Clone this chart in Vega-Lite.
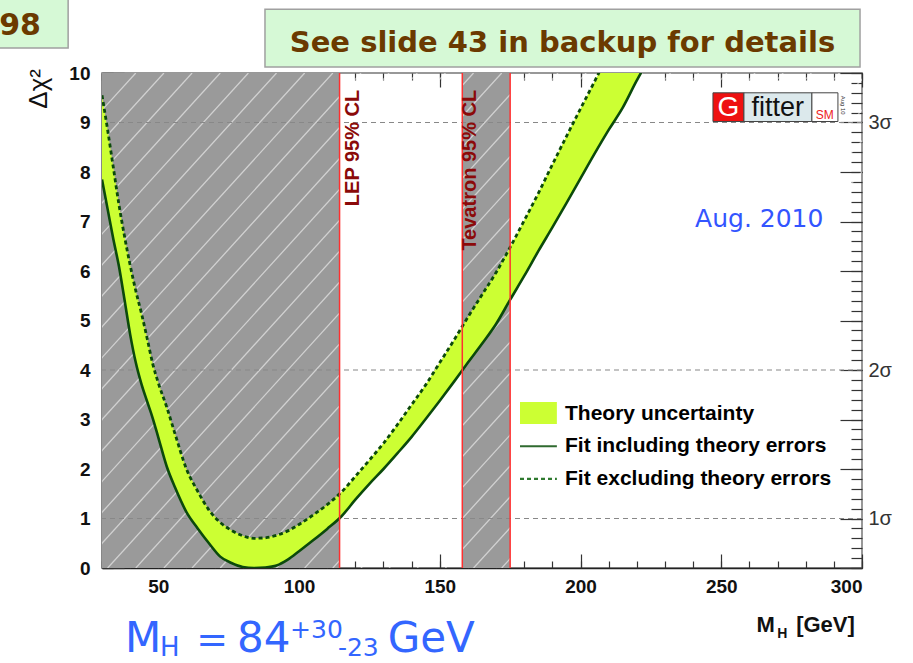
{
  "$schema": "https://vega.github.io/schema/vega-lite/v6.json",
  "width": 760,
  "height": 495,
  "autosize": "none",
  "padding": {"left": 102, "top": 73, "right": 51, "bottom": 95},
  "background": "white",
  "config": {
    "view": {"stroke": "#777777", "strokeWidth": 1.5},
    "axis": {"grid": false, "zindex": 1, "labelFont": "Liberation Sans", "labelFontWeight": "bold", "labelColor": "#111111", "tickColor": "#333333", "domainColor": "#333333", "labelFontSize": 19, "tickWidth": 1.2}
  },
  "data": {"values": [{}]},
  "datasets": {
    "bands": [{"x1": 30, "x2": 114.4}, {"x1": 158, "x2": 175}],
    "hatch": [
      {"h": -118, "h2": 42}, {"h": -108, "h2": 52}, {"h": -98, "h2": 62}, {"h": -88, "h2": 72},
      {"h": -78, "h2": 82}, {"h": -68, "h2": 92}, {"h": -58, "h2": 102}, {"h": -48, "h2": 112},
      {"h": -38, "h2": 122}, {"h": -28, "h2": 132}, {"h": -18, "h2": 142}, {"h": -8, "h2": 152},
      {"h": 2, "h2": 162}, {"h": 12, "h2": 172}, {"h": 22, "h2": 182}, {"h": 32, "h2": 192},
      {"h": 42, "h2": 202}, {"h": 52, "h2": 212}, {"h": 62, "h2": 222}, {"h": 72, "h2": 232},
      {"h": 82, "h2": 242}, {"h": 92, "h2": 252}, {"h": 102, "h2": 262}, {"h": 112, "h2": 272},
      {"h": 122, "h2": 282}, {"h": 132, "h2": 292}, {"h": 142, "h2": 302}, {"h": 152, "h2": 312},
      {"h": 162, "h2": 322}, {"h": 172, "h2": 332}
    ],
    "grid": [{"g": 1}, {"g": 4}, {"g": 9}],
    "redlines": [{"r": 114.4}, {"r": 158}, {"r": 175}],
    "curve": [
      {"x": 30, "solid": 7.85, "dashed": 9.55},
      {"x": 32, "solid": 7.25, "dashed": 8.85},
      {"x": 34, "solid": 6.65, "dashed": 8.1},
      {"x": 36, "solid": 6.1, "dashed": 7.35},
      {"x": 38, "solid": 5.42, "dashed": 6.7},
      {"x": 40, "solid": 4.72, "dashed": 6.12},
      {"x": 42, "solid": 4.15, "dashed": 5.6},
      {"x": 44, "solid": 3.72, "dashed": 5.15},
      {"x": 46, "solid": 3.37, "dashed": 4.65},
      {"x": 48, "solid": 3.03, "dashed": 4.13},
      {"x": 50, "solid": 2.64, "dashed": 3.74},
      {"x": 53, "solid": 2.05, "dashed": 3.25},
      {"x": 56, "solid": 1.62, "dashed": 2.7},
      {"x": 60, "solid": 1.13, "dashed": 2.0},
      {"x": 64, "solid": 0.8, "dashed": 1.55},
      {"x": 68, "solid": 0.5, "dashed": 1.17},
      {"x": 72, "solid": 0.23, "dashed": 0.92},
      {"x": 76, "solid": 0.1, "dashed": 0.76},
      {"x": 80, "solid": 0.02, "dashed": 0.65},
      {"x": 84, "solid": 0, "dashed": 0.6},
      {"x": 88, "solid": 0.01, "dashed": 0.61},
      {"x": 92, "solid": 0.05, "dashed": 0.66},
      {"x": 96, "solid": 0.17, "dashed": 0.75},
      {"x": 100, "solid": 0.34, "dashed": 0.88},
      {"x": 105, "solid": 0.56, "dashed": 1.07},
      {"x": 110, "solid": 0.79, "dashed": 1.28},
      {"x": 115, "solid": 1.04, "dashed": 1.53},
      {"x": 120, "solid": 1.38, "dashed": 1.85},
      {"x": 125, "solid": 1.7, "dashed": 2.18},
      {"x": 130, "solid": 2.0, "dashed": 2.52},
      {"x": 135, "solid": 2.32, "dashed": 2.9},
      {"x": 140, "solid": 2.65, "dashed": 3.3},
      {"x": 145, "solid": 3.01, "dashed": 3.7},
      {"x": 150, "solid": 3.38, "dashed": 4.15},
      {"x": 155, "solid": 3.76, "dashed": 4.6},
      {"x": 160, "solid": 4.15, "dashed": 5.07},
      {"x": 165, "solid": 4.53, "dashed": 5.52},
      {"x": 170, "solid": 4.93, "dashed": 5.97},
      {"x": 175, "solid": 5.42, "dashed": 6.48},
      {"x": 180, "solid": 5.9, "dashed": 7.02},
      {"x": 185, "solid": 6.4, "dashed": 7.57},
      {"x": 190, "solid": 6.88, "dashed": 8.15},
      {"x": 195, "solid": 7.37, "dashed": 8.72},
      {"x": 200, "solid": 7.87, "dashed": 9.28},
      {"x": 205, "solid": 8.37, "dashed": 9.83},
      {"x": 210, "solid": 8.85, "dashed": 10.4},
      {"x": 215, "solid": 9.3, "dashed": 10.95},
      {"x": 220, "solid": 9.85, "dashed": 11.5},
      {"x": 225, "solid": 10.35, "dashed": 12.05}
    ]
  },
  "resolve": {"axis": {"x": "independent", "y": "independent"}},
  "layer": [
    {
      "data": {"name": "bands"},
      "mark": {"type": "rect", "color": "#9a9a9a"},
      "encoding": {
        "x": {"field": "x1", "type": "quantitative", "scale": {"domain": [30, 300], "nice": false, "zero": false},
              "axis": {"title": null, "orient": "bottom", "values": [50, 100, 150, 200, 250, 300], "tickSize": -14, "labelPadding": 23, "domain": true, "domainWidth": 1.5, "domainColor": "#222222"}},
        "x2": {"field": "x2"}
      }
    },
    {
      "data": {"name": "hatch"},
      "mark": {"type": "rule", "color": "white", "opacity": 0.55, "strokeWidth": 1.3, "clip": true},
      "encoding": {
        "x": {"field": "h", "type": "quantitative", "axis": {"title": null, "orient": "top", "values": [50, 100, 150, 200, 250, 300], "tickSize": -14, "labels": false, "domain": false}},
        "x2": {"field": "h2"},
        "y": {"datum": 0, "type": "quantitative", "scale": {"domain": [0, 10], "nice": false, "zero": false}, "axis": null},
        "y2": {"datum": 10}
      }
    },
    {
      "data": {"name": "grid"},
      "mark": {"type": "rule", "color": "#888888", "strokeDash": [5, 4], "strokeWidth": 1.1},
      "encoding": {
        "y": {"field": "g", "type": "quantitative",
              "axis": {"title": null, "orient": "right", "values": [0, 1, 2, 3, 4, 5, 6, 7, 8, 9, 10], "labelExpr": "datum.value == 1 ? '1σ' : datum.value == 4 ? '2σ' : datum.value == 9 ? '3σ' : ''", "tickSize": -22, "labelPadding": 28, "labelFontWeight": "normal", "labelFontSize": 20, "labelColor": "#333333", "domain": false}}
      }
    },
    {
      "data": {"name": "curve"},
      "mark": {"type": "area", "color": "#ccff33", "opacity": 1, "clip": true},
      "encoding": {
        "x": {"field": "x", "type": "quantitative", "axis": {"title": null, "orient": "bottom", "values": [30,40,50,60,70,80,90,100,110,120,130,140,150,160,170,180,190,200,210,220,230,240,250,260,270,280,290,300], "tickSize": -7, "labels": false, "domain": false}},
        "y": {"field": "dashed", "type": "quantitative", "axis": {"title": null, "orient": "left", "values": [0,0.2,0.4,0.6,0.8,1,1.2,1.4,1.6,1.8,2,2.2,2.4,2.6,2.8,3,3.2,3.4,3.6,3.8,4,4.2,4.4,4.6,4.8,5,5.2,5.4,5.6,5.8,6,6.2,6.4,6.6,6.8,7,7.2,7.4,7.6,7.8,8,8.2,8.4,8.6,8.8,9,9.2,9.4,9.6,9.8,10], "tickSize": -11, "labels": false, "domain": false}},
        "y2": {"field": "solid"}
      }
    },
    {
      "data": {"name": "curve"},
      "mark": {"type": "line", "color": "#0b4a0b", "strokeWidth": 2.6, "clip": true, "interpolate": "monotone"},
      "encoding": {
        "x": {"field": "x", "type": "quantitative", "axis": {"title": null, "orient": "top", "values": [30,40,50,60,70,80,90,100,110,120,130,140,150,160,170,180,190,200,210,220,230,240,250,260,270,280,290,300], "tickSize": -7, "labels": false, "domain": false}},
        "y": {"field": "solid", "type": "quantitative", "axis": {"title": null, "orient": "left", "values": [0,1,2,3,4,5,6,7,8,9,10], "tickSize": -22, "labelPadding": 34, "domain": true, "domainWidth": 1.5, "domainColor": "#555555"}}
      }
    },
    {
      "data": {"name": "curve"},
      "mark": {"type": "line", "color": "#0b4a0b", "strokeWidth": 2.8, "strokeDash": [4, 3], "clip": true, "interpolate": "monotone"},
      "encoding": {
        "x": {"field": "x", "type": "quantitative", "axis": null},
        "y": {"field": "dashed", "type": "quantitative", "axis": {"title": null, "orient": "right", "values": [0,0.2,0.4,0.6,0.8,1,1.2,1.4,1.6,1.8,2,2.2,2.4,2.6,2.8,3,3.2,3.4,3.6,3.8,4,4.2,4.4,4.6,4.8,5,5.2,5.4,5.6,5.8,6,6.2,6.4,6.6,6.8,7,7.2,7.4,7.6,7.8,8,8.2,8.4,8.6,8.8,9,9.2,9.4,9.6,9.8,10], "tickSize": -11, "labels": false, "domain": false}}
      }
    },
    {
      "data": {"name": "redlines"},
      "mark": {"type": "rule", "color": "#ff3030", "strokeWidth": 1.5},
      "encoding": {"x": {"field": "r", "type": "quantitative", "axis": null}}
    },
    {
      "mark": {"type": "text", "text": "LEP 95% CL", "font": "Liberation Sans", "fontWeight": "bold", "fontSize": 20, "angle": 270, "align": "right", "baseline": "middle", "color": "#8b0a0a"},
      "encoding": {"x": {"datum": 119, "axis": null}, "y": {"datum": 9.66, "axis": null}}
    },
    {
      "mark": {"type": "text", "text": "Tevatron 95% CL", "font": "Liberation Sans", "fontWeight": "bold", "fontSize": 20, "angle": 270, "align": "right", "baseline": "middle", "color": "#8b0a0a"},
      "encoding": {"x": {"datum": 160.6, "axis": null}, "y": {"datum": 9.66, "axis": null}}
    },
    {
      "mark": {"type": "rect", "color": "#ccff33"},
      "encoding": {"x": {"datum": 178.5, "axis": null}, "x2": {"datum": 191.6}, "y": {"datum": 3.354, "axis": null}, "y2": {"datum": 2.909}}
    },
    {
      "mark": {"type": "rule", "color": "#2f6a2f", "strokeWidth": 2},
      "encoding": {"x": {"datum": 178.5, "axis": null}, "x2": {"datum": 191.6}, "y": {"datum": 2.46, "axis": null}}
    },
    {
      "mark": {"type": "rule", "color": "#2f7a2f", "strokeWidth": 2.2, "strokeDash": [4, 3]},
      "encoding": {"x": {"datum": 178.5, "axis": null}, "x2": {"datum": 191.6}, "y": {"datum": 1.8, "axis": null}}
    },
    {
      "mark": {"type": "text", "text": "Theory uncertainty", "font": "Liberation Sans", "fontWeight": "bold", "fontSize": 21, "align": "left", "baseline": "middle", "color": "black"},
      "encoding": {"x": {"datum": 194.5, "axis": null}, "y": {"datum": 3.12, "axis": null}}
    },
    {
      "mark": {"type": "text", "text": "Fit including theory errors", "font": "Liberation Sans", "fontWeight": "bold", "fontSize": 21, "align": "left", "baseline": "middle", "color": "black"},
      "encoding": {"x": {"datum": 194.5, "axis": null}, "y": {"datum": 2.46, "axis": null}}
    },
    {
      "mark": {"type": "text", "text": "Fit excluding theory errors", "font": "Liberation Sans", "fontWeight": "bold", "fontSize": 21, "align": "left", "baseline": "middle", "color": "black"},
      "encoding": {"x": {"datum": 194.5, "axis": null}, "y": {"datum": 1.8, "axis": null}}
    },
    {
      "mark": {"type": "text", "text": "Aug. 2010", "font": "DejaVu Sans", "fontSize": 25, "align": "left", "baseline": "middle", "color": "#3355ff"},
      "encoding": {"x": {"datum": 240.7, "axis": null}, "y": {"datum": 7.05, "axis": null}}
    },
    {
      "mark": {"type": "rect", "color": "#ee1111", "stroke": "#444444", "strokeWidth": 1},
      "encoding": {"x": {"datum": 247.05, "axis": null}, "x2": {"datum": 258.06}, "y": {"datum": 9.6, "axis": null}, "y2": {"datum": 9.02}}
    },
    {
      "mark": {"type": "rect", "color": "#dce9ec", "stroke": "#444444", "strokeWidth": 1},
      "encoding": {"x": {"datum": 258.06, "axis": null}, "x2": {"datum": 282.2}, "y": {"datum": 9.6, "axis": null}, "y2": {"datum": 9.02}}
    },
    {
      "mark": {"type": "rect", "color": "white", "stroke": "#444444", "strokeWidth": 1},
      "encoding": {"x": {"datum": 282.2, "axis": null}, "x2": {"datum": 291.45}, "y": {"datum": 9.6, "axis": null}, "y2": {"datum": 9.02}}
    },
    {
      "mark": {"type": "text", "text": "G", "font": "Liberation Sans", "fontSize": 28, "align": "center", "baseline": "middle", "color": "white"},
      "encoding": {"x": {"datum": 252.55, "axis": null}, "y": {"datum": 9.3, "axis": null}}
    },
    {
      "mark": {"type": "text", "text": "fitter", "font": "Liberation Sans", "fontSize": 27, "align": "center", "baseline": "middle", "color": "#111111"},
      "encoding": {"x": {"datum": 270.1, "axis": null}, "y": {"datum": 9.3, "axis": null}}
    },
    {
      "mark": {"type": "text", "text": "SM", "font": "Liberation Sans", "fontSize": 12, "align": "center", "baseline": "middle", "color": "#ee2222"},
      "encoding": {"x": {"datum": 286.8, "axis": null}, "y": {"datum": 9.15, "axis": null}}
    },
    {
      "mark": {"type": "text", "text": "Aug 10", "font": "Liberation Sans", "fontSize": 6, "angle": 90, "align": "center", "baseline": "middle", "color": "#333333"},
      "encoding": {"x": {"datum": 293.3, "axis": null}, "y": {"datum": 9.35, "axis": null}}
    },
    {
      "mark": {"type": "text", "text": "Δχ²", "font": "Liberation Sans", "fontSize": 26, "angle": 270, "align": "right", "baseline": "middle", "color": "#111111"},
      "encoding": {"x": {"datum": 7.6, "axis": null}, "y": {"datum": 10.08, "axis": null}}
    },
    {
      "mark": {"type": "text", "text": "M", "font": "Liberation Sans", "fontWeight": "bold", "fontSize": 22, "align": "left", "baseline": "alphabetic", "color": "#111111"},
      "encoding": {"x": {"datum": 262.5, "axis": null}, "y": {"datum": -1.3, "axis": null}}
    },
    {
      "mark": {"type": "text", "text": "H", "font": "Liberation Sans", "fontWeight": "bold", "fontSize": 14, "align": "left", "baseline": "alphabetic", "color": "#111111"},
      "encoding": {"x": {"datum": 269.9, "axis": null}, "y": {"datum": -1.42, "axis": null}}
    },
    {
      "mark": {"type": "text", "text": "[GeV]", "font": "Liberation Sans", "fontWeight": "bold", "fontSize": 22, "align": "left", "baseline": "alphabetic", "color": "#111111"},
      "encoding": {"x": {"datum": 276.6, "axis": null}, "y": {"datum": -1.3, "axis": null}}
    },
    {
      "mark": {"type": "text", "text": "M", "font": "DejaVu Sans", "fontSize": 42, "align": "left", "baseline": "alphabetic", "color": "#3366ff"},
      "encoding": {"x": {"datum": 38.2, "axis": null}, "y": {"datum": -1.7, "axis": null}}
    },
    {
      "mark": {"type": "text", "text": "H", "font": "DejaVu Sans", "fontSize": 26, "align": "left", "baseline": "alphabetic", "color": "#3366ff"},
      "encoding": {"x": {"datum": 50.6, "axis": null}, "y": {"datum": -1.77, "axis": null}}
    },
    {
      "mark": {"type": "text", "text": "=", "font": "DejaVu Sans", "fontSize": 38, "align": "center", "baseline": "alphabetic", "color": "#3366ff"},
      "encoding": {"x": {"datum": 69.1, "axis": null}, "y": {"datum": -1.7, "axis": null}}
    },
    {
      "mark": {"type": "text", "text": "84", "font": "DejaVu Sans", "fontSize": 42, "align": "left", "baseline": "alphabetic", "color": "#3366ff"},
      "encoding": {"x": {"datum": 77.96, "axis": null}, "y": {"datum": -1.7, "axis": null}}
    },
    {
      "mark": {"type": "text", "text": "+30", "font": "DejaVu Sans", "fontSize": 25, "align": "left", "baseline": "alphabetic", "color": "#3366ff"},
      "encoding": {"x": {"datum": 96.8, "axis": null}, "y": {"datum": -1.41, "axis": null}}
    },
    {
      "mark": {"type": "text", "text": "-23", "font": "DejaVu Sans", "fontSize": 25, "align": "left", "baseline": "alphabetic", "color": "#3366ff"},
      "encoding": {"x": {"datum": 113.8, "axis": null}, "y": {"datum": -1.77, "axis": null}}
    },
    {
      "mark": {"type": "text", "text": "GeV", "font": "DejaVu Sans", "fontSize": 42, "align": "left", "baseline": "alphabetic", "color": "#3366ff"},
      "encoding": {"x": {"datum": 131.5, "axis": null}, "y": {"datum": -1.7, "axis": null}}
    },
    {
      "mark": {"type": "rect", "color": "#d6f9d6", "stroke": "#a0a0a0", "strokeWidth": 1.5},
      "encoding": {"x": {"datum": -10, "axis": null}, "x2": {"datum": 17.97}, "y": {"datum": 10.505, "axis": null}, "y2": {"datum": 11.8}}
    },
    {
      "mark": {"type": "text", "text": "98", "font": "DejaVu Sans", "fontWeight": "bold", "fontSize": 30, "align": "right", "baseline": "alphabetic", "color": "#6b3a00"},
      "encoding": {"x": {"datum": 8.3, "axis": null}, "y": {"datum": 10.77, "axis": null}}
    },
    {
      "mark": {"type": "rect", "color": "#d6f9d6", "stroke": "#a0a0a0", "strokeWidth": 1.5},
      "encoding": {"x": {"datum": 87.9, "axis": null}, "x2": {"datum": 299.3}, "y": {"datum": 11.29, "axis": null}, "y2": {"datum": 10.12}}
    },
    {
      "mark": {"type": "text", "text": "See slide 43 in backup for details", "font": "DejaVu Sans", "fontWeight": "bold", "fontSize": 29, "align": "center", "baseline": "alphabetic", "color": "#6b3a00"},
      "encoding": {"x": {"datum": 193.6, "axis": null}, "y": {"datum": 10.42, "axis": null}}
    }
  ]
}
